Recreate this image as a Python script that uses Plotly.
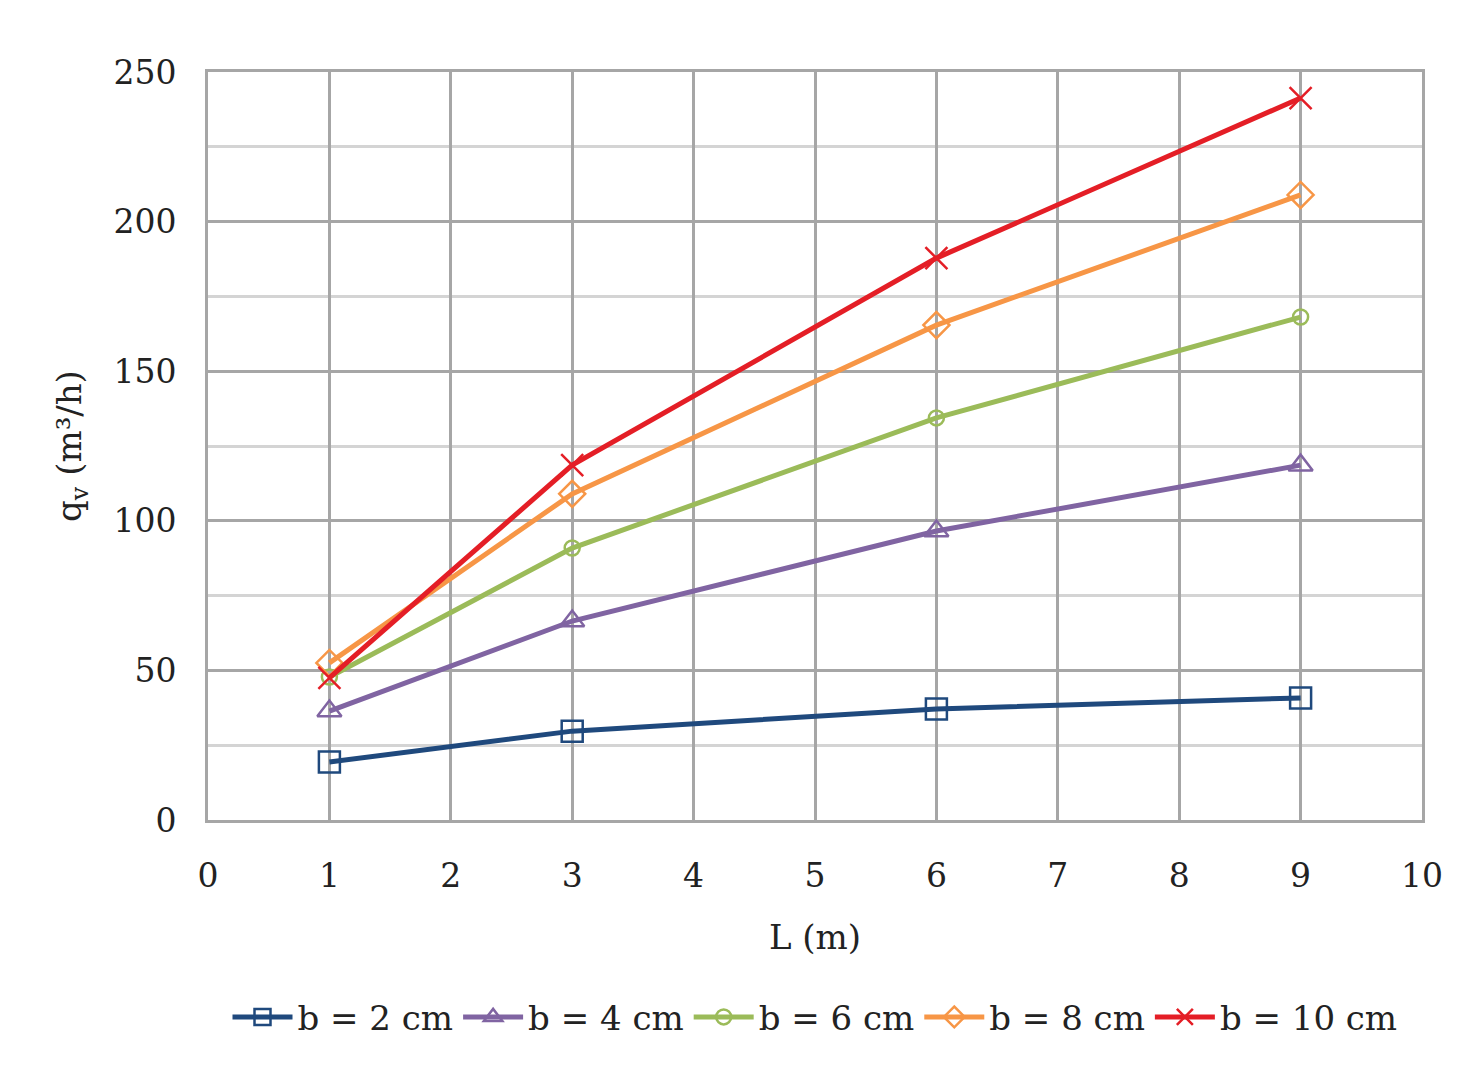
import plotly.graph_objects as go

L = [1, 3, 6, 9]
names = ["b = 2 cm", "b = 4 cm", "b = 6 cm", "b = 8 cm", "b = 10 cm"]
q_b2 = [19.4, 29.7, 37.1, 40.8]
q_b4 = [36.4, 66.5, 96.6, 118.6]
q_b6 = [47.8, 90.9, 134.4, 168.1]
q_b8 = [52.5, 109.0, 165.4, 208.9]
q_b10 = [47.5, 118.6, 187.8, 241.3]
series = [q_b2, q_b4, q_b6, q_b8, q_b10]
colors = ["#1F497D", "#8064A2", "#9BBB59", "#F79646", "#E41E26"]
symbols = ["square-open", "triangle-up-open", "circle-open", "diamond-open", "x-thin-open"]
sizes = [21, 21, 15, 20, 22]

FONT = "DejaVu Serif"

fig = go.Figure()
for n, y, c, s, sz in zip(names, series, colors, symbols, sizes):
    fig.add_trace(go.Scatter(
        x=L, y=y, name=n, mode="lines+markers",
        line=dict(color=c, width=5),
        marker=dict(symbol=s, size=sz, color=c, line=dict(color=c, width=2.5)),
    ))

fig.update_layout(
    width=1482, height=1071,
    paper_bgcolor="white", plot_bgcolor="white",
    margin=dict(l=200, r=68, t=64, b=259),
    font=dict(family=FONT, size=33, color="#222222"),
    showlegend=True,
    legend=dict(orientation="h", x=0.5, xanchor="center", y=-0.225, yanchor="top",
                font=dict(size=34), itemwidth=60, tracegroupgap=0),
    xaxis=dict(
        range=[0, 10], dtick=1, tick0=0,
        showgrid=True, gridcolor="#A6A6A6", gridwidth=3,
        showline=True, linecolor="#A6A6A6", linewidth=3, mirror=True,
        zeroline=False, ticks="", ticklabelstandoff=24,
        title=dict(text="L (m)", font=dict(size=34), standoff=32),
    ),
    yaxis=dict(
        range=[0, 250], dtick=50, tick0=0,
        showgrid=True, gridcolor="#A6A6A6", gridwidth=3,
        minor=dict(dtick=25, showgrid=True, gridcolor="#D4D4D4", gridwidth=3),
        showline=True, linecolor="#A6A6A6", linewidth=3, mirror=True,
        zeroline=False, ticks="", ticklabelstandoff=22,
        title=dict(text="q<sub>v</sub> (m³/h)", font=dict(size=34), standoff=22),
    ),
)

fig.write_html("out.html")
